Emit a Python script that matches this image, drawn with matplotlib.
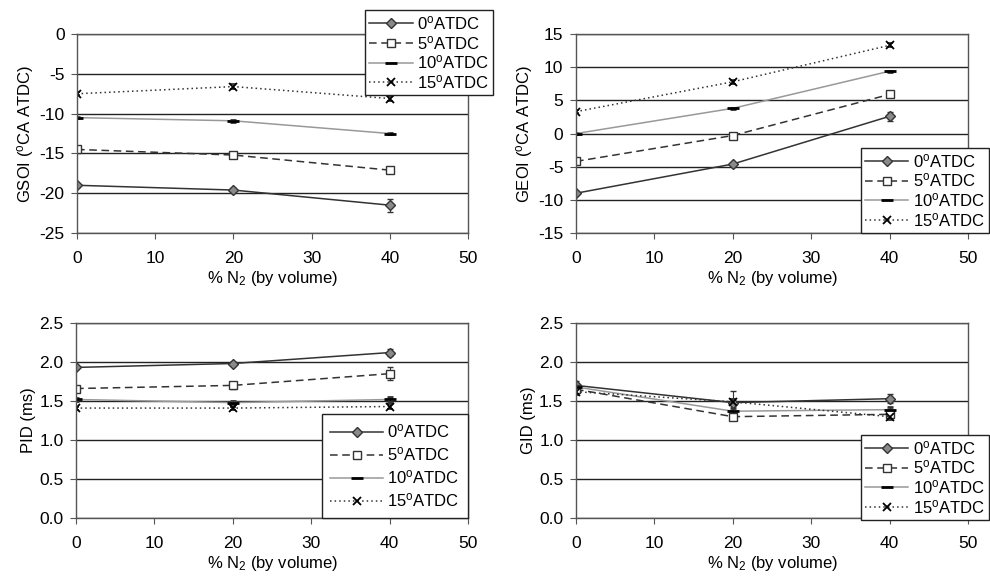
import matplotlib
import matplotlib.pyplot as plt

matplotlib.use("Agg")

plt.rcParams["font.family"] = ["Liberation Sans", "DejaVu Sans"]
plt.rcParams["mathtext.default"] = "regular"
plt.rcParams["font.size"] = 12

# ---------------------------------------------------------------------------
# Data
# ---------------------------------------------------------------------------
n2_pct = [0, 20, 40]
labels = ["0$^{o}$ATDC", "5$^{o}$ATDC", "10$^{o}$ATDC", "15$^{o}$ATDC"]

gsoi = [
    [-19.0, -19.6, -21.5],
    [-14.5, -15.2, -17.1],
    [-10.5, -10.9, -12.5],
    [-7.5, -6.6, -8.1],
]
gsoi_err = [
    [0.2, 0.3, 0.8],
    [0.2, 0.4, 0.4],
    [0.1, 0.1, 0.1],
    [0.2, 0.3, 0.3],
]

geoi = [
    [-9.0, -4.6, 2.6],
    [-4.2, -0.3, 5.9],
    [0.0, 3.8, 9.4],
    [3.3, 7.8, 13.3],
]
geoi_err = [
    [0.2, 0.2, 0.7],
    [0.3, 0.3, 0.4],
    [0.1, 0.1, 0.1],
    [0.2, 0.3, 0.3],
]

pid = [
    [1.93, 1.98, 2.12],
    [1.66, 1.70, 1.85],
    [1.52, 1.48, 1.52],
    [1.41, 1.41, 1.43],
]
pid_err = [
    [0.02, 0.02, 0.05],
    [0.02, 0.04, 0.08],
    [0.02, 0.02, 0.03],
    [0.02, 0.02, 0.03],
]

gid = [
    [1.70, 1.48, 1.53],
    [1.65, 1.30, 1.33],
    [1.68, 1.37, 1.39],
    [1.62, 1.49, 1.30],
]
gid_err = [
    [0.06, 0.15, 0.06],
    [0.04, 0.04, 0.04],
    [0.04, 0.04, 0.04],
    [0.04, 0.04, 0.04],
]

# ---------------------------------------------------------------------------
# Styles
# ---------------------------------------------------------------------------
styles = [
    dict(color="#333333", ls="-", marker="D", ms=5, mfc="#8a8a8a", mec="#333333"),
    dict(color="#333333", ls=(0, (5, 3)), marker="s", ms=6, mfc="white", mec="#333333"),
    dict(color="#999999", ls="-", marker="_", ms=9, mfc="black", mec="black", mew=2),
    dict(color="#333333", ls=(0, (1, 2)), marker="x", ms=6, mfc="black", mec="black", mew=1.3),
]


def draw_panel(ax, data, err, ylim, yticks, ylabel, yfmt):
    handles = []
    for vals, e, st, lab in zip(data, err, styles, labels):
        cont = ax.errorbar(n2_pct, vals, yerr=e, lw=1.1, capsize=2.5, elinewidth=0.8,
                           ecolor="#333333", label=lab, **st)
        handles.append(cont[0])
    ax.set_xlim(0, 50)
    ax.set_ylim(*ylim)
    ax.set_xticks(range(0, 51, 10))
    ax.set_yticks(yticks)
    ax.set_yticklabels([yfmt.format(v) for v in yticks])
    ax.yaxis.grid(True, color="#222222", lw=1.0)
    ax.set_axisbelow(True)
    for sp in ax.spines.values():
        sp.set_color("#555555")
        sp.set_linewidth(1.0)
    ax.tick_params(axis="both", direction="out", length=4, color="#555555",
                   labelsize=12.5)
    ax.tick_params(axis="x", pad=9)
    ax.tick_params(axis="y", pad=5)
    ax.set_xlabel("% N$_2$ (by volume)", fontsize=12, labelpad=2)
    ax.set_ylabel(ylabel, fontsize=12, labelpad=2)
    return handles


fig = plt.figure(figsize=(9.9, 5.87), dpi=100)
ax1 = fig.add_axes([0.0778, 0.603, 0.395, 0.339])
ax2 = fig.add_axes([0.5818, 0.603, 0.396, 0.339])
ax3 = fig.add_axes([0.0768, 0.117, 0.396, 0.333])
ax4 = fig.add_axes([0.5818, 0.117, 0.396, 0.333])

h1 = draw_panel(ax1, gsoi, gsoi_err, (-25, 0), list(range(-25, 1, 5)),
                "GSOI ($^{o}$CA ATDC)", "{:d}")
h2 = draw_panel(ax2, geoi, geoi_err, (-15, 15), list(range(-15, 16, 5)),
                "GEOI ($^{o}$CA ATDC)", "{:d}")
h3 = draw_panel(ax3, pid, pid_err, (0, 2.5), [0.0, 0.5, 1.0, 1.5, 2.0, 2.5],
                "PID (ms)", "{:.1f}")
h4 = draw_panel(ax4, gid, gid_err, (0, 2.5), [0.0, 0.5, 1.0, 1.5, 2.0, 2.5],
                "GID (ms)", "{:.1f}")

legend_kw = dict(frameon=True, fancybox=False, edgecolor="#222222",
                 fontsize=12, handlelength=2.6, handletextpad=0.25,
                 borderpad=0.25, labelspacing=0.1, borderaxespad=0.0,
                 framealpha=1.0, bbox_transform=fig.transFigure)

for ax, hs, loc, anchor, extra in [
    (ax1, h1, "upper right", (0.498, 0.983), {}),
    (ax2, h2, "lower right", (0.999, 0.603), {}),
    (ax3, h3, "lower right", (0.4727, 0.1175),
     dict(borderpad=0.5, handlelength=3.2, labelspacing=0.3)),
    (ax4, h4, "lower right", (0.999, 0.114), {}),
]:
    kw = dict(legend_kw, **extra)
    leg = ax.legend(handles=hs, labels=labels, loc=loc, bbox_to_anchor=anchor, **kw)
    leg.get_frame().set_linewidth(1.0)
    leg.set_zorder(5)

fig.savefig("out.png", dpi=100)
